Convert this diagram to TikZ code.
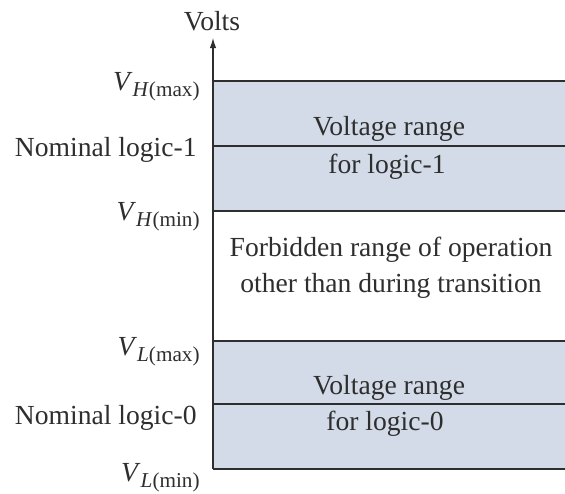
\documentclass[tikz,border=0pt]{standalone}
\usepackage{fontspec}
\setmainfont{Liberation Serif}
\usetikzlibrary{arrows.meta, positioning}
\definecolor{bandfill}{HTML}{D3DBE8}
\definecolor{inkgray}{HTML}{2E2E2E}
\newcommand{\vlev}[2]{\textit{V}\raisebox{-0.55ex}{\fontsize{10.6}{12}\selectfont\textit{#1}(#2)}}

\begin{document}
\begin{tikzpicture}[x=0.5pt, y=-0.5pt, font=\fontsize{13.8}{18}\selectfont, text=inkgray,
  band/.style={fill=bandfill, draw=none},
  level/.style={draw=inkgray, line width=0.75pt},
  lbl/.style={anchor=base east, inner sep=0pt},
  txt/.style={anchor=base, inner sep=0pt, align=center}]
  \useasboundingbox (0,0) rectangle (565,493);

  % Shaded voltage bands
  \fill[band] (213,81) rectangle (565,211);
  \fill[band] (213,341) rectangle (565,469);

  % Level lines
  \coordinate (hmax) at (213,81);   \coordinate (hmaxR) at (565,81);
  \coordinate (hnom) at (213,146);  \coordinate (hnomR) at (565,146);
  \coordinate (hmin) at (213,211);  \coordinate (hminR) at (565,211);
  \coordinate (lmax) at (213,341);  \coordinate (lmaxR) at (565,341);
  \coordinate (lnom) at (213,404);  \coordinate (lnomR) at (565,404);
  \coordinate (lmin) at (213,469);  \coordinate (lminR) at (565,469);
  \foreach \a in {hmax,hnom,hmin,lmax,lnom,lmin}
    \draw[level] (\a) -- (\a R);

  % Volts axis
  \node[txt] (volts) at (212,30) {Volts};
  \coordinate (axtop) at (213,38);
  \draw[inkgray, line width=0.55pt, -{Latex[length=5pt,width=3.2pt]}] (lmin) -- (axtop);

  % Left labels
  \node[lbl] (vhmax) at (200,90)  {\vlev{H}{max}};
  \node[lbl] (nom1)  at (197,156) {Nominal logic-1};
  \node[lbl] (vhmin) at (200,220) {\vlev{H}{min}};
  \node[lbl] (vlmax) at (200,355) {\vlev{L}{max}};
  \node[lbl] (nom0)  at (197,424) {Nominal logic-0};
  \node[lbl] (vlmin) at (200,481) {\vlev{L}{min}};

  % Band texts
  \node[txt] (range1) at (389,135) {Voltage range};
  \node[txt] (for1)   at (387,173) {for logic-1};
  \node[txt] (forbid) at (391,256) {Forbidden range of operation};
  \node[txt] (other)  at (391,292) {other than during transition};
  \node[txt] (range0) at (389,394) {Voltage range};
  \node[txt] (for0)   at (385,430) {for logic-0};
\end{tikzpicture}
\end{document}
